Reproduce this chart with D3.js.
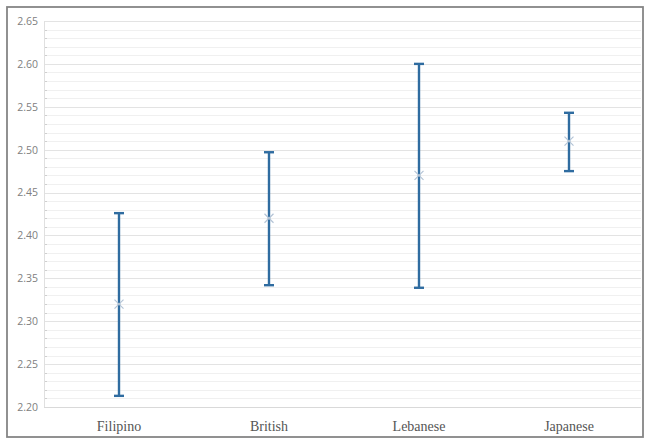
<!DOCTYPE html>
<html>
<head>
<meta charset="utf-8">
<script src="https://cdn.jsdelivr.net/npm/d3@7"></script>
<style>
  html, body { margin: 0; padding: 0; background: #fff; }
  svg { display: block; }
</style>
</head>
<body>
<svg id="chart" width="645" height="440"></svg>
<script>
// Group means with lower / upper interval bounds
const categories = ["Filipino", "British", "Lebanese", "Japanese"];
const means = [2.32, 2.42, 2.47, 2.51];
const lower = [2.213, 2.342, 2.339, 2.475];
const upper = [2.426, 2.497, 2.600, 2.543];
const yTicks = [2.20, 2.25, 2.30, 2.35, 2.40, 2.45, 2.50, 2.55, 2.60, 2.65];

const svg = d3.select("#chart");
const W = 645, H = 440;
const plot = { left: 44, right: 644, top: 21, bottom: 407 };

// Frame around the chart
svg.append("rect")
  .attr("x", 7).attr("y", 7)
  .attr("width", W - 9).attr("height", H - 10)
  .attr("fill", "#fff")
  .attr("stroke", "#858585")
  .attr("stroke-width", 1.8);

const x = d3.scaleBand().domain(categories).range([plot.left, plot.right]);
const y = d3.scaleLinear().domain([2.20, 2.65]).range([plot.bottom, plot.top]);

// Minor gridlines every 0.01
const minor = d3.range(0, 46).map(i => 2.20 + i * 0.01).filter(v => Math.round(v * 100) % 5 !== 0);
svg.append("g").selectAll("line").data(minor).join("line")
  .attr("x1", plot.left).attr("x2", plot.right - 3)
  .attr("y1", d => Math.round(y(d)) + 0.5).attr("y2", d => Math.round(y(d)) + 0.5)
  .attr("stroke", "#f0f0f0").attr("stroke-width", 1);

// Minor tick marks on the value axis
svg.append("g").selectAll("line").data(minor).join("line")
  .attr("x1", plot.left).attr("x2", plot.left + 3)
  .attr("y1", d => Math.round(y(d)) + 0.5).attr("y2", d => Math.round(y(d)) + 0.5)
  .attr("stroke", "#cfcfcf").attr("stroke-width", 1);

// Major gridlines
svg.append("g").selectAll("line").data(yTicks).join("line")
  .attr("x1", plot.left).attr("x2", plot.right - 3)
  .attr("y1", d => Math.round(y(d)) + 0.5).attr("y2", d => Math.round(y(d)) + 0.5)
  .attr("stroke", d => d === 2.20 ? "#d9d9d9" : "#e3e3e3").attr("stroke-width", 1);

// Value axis line
svg.append("line")
  .attr("x1", plot.left + 0.5).attr("x2", plot.left + 0.5)
  .attr("y1", plot.top).attr("y2", plot.bottom)
  .attr("stroke", "#e0e0e0");

// Value axis labels
const yAxis = d3.axisLeft(y).tickValues(yTicks).tickFormat(d3.format(".2f")).tickSize(0).tickPadding(6);
const ya = svg.append("g").attr("transform", `translate(${plot.left},0)`).call(yAxis);
ya.select(".domain").remove();
ya.selectAll("text")
  .attr("fill", "#808080")
  .style("font-family", "'Open Sans', 'DejaVu Sans', sans-serif")
  .style("font-size", "10.5px");

// Category labels
const xAxis = d3.axisBottom(x).tickSize(0).tickPadding(14);
const xa = svg.append("g").attr("transform", `translate(0,${plot.bottom})`).call(xAxis);
xa.select(".domain").remove();
xa.selectAll("text")
  .attr("fill", "#555")
  .style("font-family", "'Liberation Serif', 'DejaVu Serif', serif")
  .style("font-size", "14px");

// Interval bars with caps
const barColor = "#2f6ca0";
const rows = categories.map((c, i) => ({ c, m: means[i], lo: lower[i], hi: upper[i] }));
const cx = d => x(d.c) + x.bandwidth() / 2;
const capW = 5;
const g = svg.append("g");
g.selectAll("line.stem").data(rows).join("line").attr("class", "stem")
  .attr("x1", cx).attr("x2", cx)
  .attr("y1", d => y(d.hi)).attr("y2", d => y(d.lo))
  .attr("stroke", barColor).attr("stroke-width", 2.4);
g.selectAll("line.capTop").data(rows).join("line").attr("class", "capTop")
  .attr("x1", d => cx(d) - capW).attr("x2", d => cx(d) + capW)
  .attr("y1", d => y(d.hi)).attr("y2", d => y(d.hi))
  .attr("stroke", barColor).attr("stroke-width", 2.4);
g.selectAll("line.capBot").data(rows).join("line").attr("class", "capBot")
  .attr("x1", d => cx(d) - capW).attr("x2", d => cx(d) + capW)
  .attr("y1", d => y(d.lo)).attr("y2", d => y(d.lo))
  .attr("stroke", barColor).attr("stroke-width", 2.4);

// Mean markers
const ms = 4.5;
const mk = svg.append("g");
rows.forEach(d => {
  const px = cx(d), py = y(d.m);
  mk.append("path")
    .attr("d", `M${px - ms},${py - ms}L${px + ms},${py + ms}M${px - ms},${py + ms}L${px + ms},${py - ms}`)
    .attr("stroke", "#b4c4d6").attr("stroke-width", 1.2).attr("fill", "none");
});
</script>
</body>
</html>
